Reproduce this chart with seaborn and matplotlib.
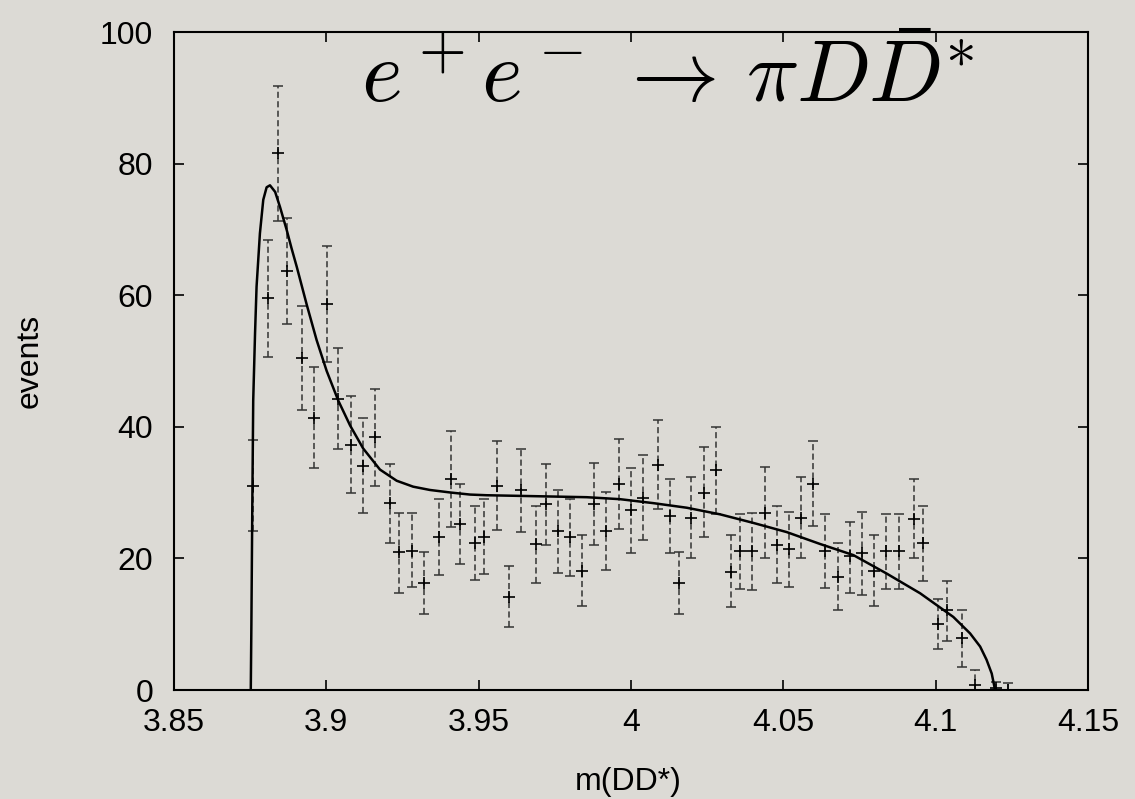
import matplotlib
matplotlib.use("Agg")
import matplotlib.pyplot as plt
import seaborn as sns
import numpy as np
import pandas as pd

# Invariant mass of the D D* system (GeV) and event counts per bin
mass = [3.8758, 3.8810, 3.8840, 3.8870, 3.8921, 3.8960, 3.9001, 3.9039, 3.9080, 3.9120,
        3.9160, 3.9210, 3.9240, 3.9280, 3.9321, 3.9370, 3.9410, 3.9439, 3.9489, 3.9518,
        3.9560, 3.9599, 3.9639, 3.9689, 3.9720, 3.9759, 3.9799, 3.9839, 3.9878, 3.9919,
        3.9960, 3.9999, 4.0039, 4.0090, 4.0129, 4.0159, 4.0198, 4.0239, 4.0279, 4.0329,
        4.0359, 4.0398, 4.0439, 4.0478, 4.0519, 4.0558, 4.0598, 4.0638, 4.0678, 4.0718,
        4.0758, 4.0798, 4.0838, 4.0879, 4.0928, 4.0957, 4.1007, 4.1036, 4.1087, 4.1129,
        4.1197, 4.1236]
counts = [31.0, 59.5, 81.6, 63.7, 50.5, 41.4, 58.7, 44.3, 37.3, 34.0,
          38.4, 28.4, 20.9, 21.2, 16.3, 23.3, 32.1, 25.2, 22.3, 23.3,
          31.0, 14.2, 30.4, 22.2, 28.3, 24.1, 23.2, 18.1, 28.3, 24.2,
          31.3, 27.3, 29.2, 34.2, 26.4, 16.3, 26.2, 30.0, 33.4, 18.0,
          21.1, 21.1, 26.9, 22.1, 21.4, 26.2, 31.3, 21.2, 17.1, 20.3,
          20.8, 18.1, 21.1, 21.1, 26.0, 22.3, 10.0, 12.1, 7.9, 0.7,
          0.3, 0.0]
bar_top = [38.0, 68.4, 91.8, 71.8, 58.4, 49.1, 67.5, 52.0, 44.7, 41.3,
           45.7, 34.4, 26.9, 26.9, 21.0, 29.0, 39.3, 31.3, 27.9, 29.0,
           37.9, 18.8, 36.7, 28.0, 34.4, 30.4, 29.0, 23.6, 34.5, 30.1,
           38.1, 33.7, 35.7, 41.0, 32.0, 20.9, 32.4, 37.0, 39.9, 23.5,
           26.7, 26.9, 33.9, 28.0, 27.1, 32.3, 37.8, 26.7, 22.3, 25.6,
           27.1, 23.6, 26.7, 26.7, 32.1, 28.0, 13.8, 16.5, 12.2, 3.0,
           1.2, 1.0]
bar_bottom = [24.1, 50.6, 71.3, 55.6, 42.6, 33.7, 49.8, 36.6, 30.0, 26.9,
              31.0, 22.3, 14.8, 15.7, 11.6, 17.5, 24.8, 19.1, 16.7, 17.6,
              24.3, 9.6, 24.0, 16.3, 22.0, 17.8, 17.3, 12.8, 22.0, 18.3,
              24.5, 20.8, 22.8, 27.5, 20.8, 11.6, 20.1, 23.3, 26.8, 12.6,
              15.3, 15.2, 20.0, 16.2, 15.7, 20.0, 24.9, 15.5, 12.1, 14.8,
              14.4, 12.7, 15.4, 15.4, 20.0, 16.6, 6.2, 7.5, 3.5, 0.0,
              0.0, 0.0]

# Fitted line shape
fit_mass = [3.8752, 3.8754, 3.8757, 3.8760, 3.8766, 3.8771, 3.8782, 3.8793, 3.8804, 3.8815,
            3.8832, 3.8848, 3.8870, 3.8886, 3.8903, 3.8936, 3.8968, 3.9001, 3.9039, 3.9078,
            3.9121, 3.9176, 3.9231, 3.9285, 3.9340, 3.9410, 3.9472, 3.9526, 3.9636, 3.9745,
            3.9855, 3.9964, 4.0073, 4.0183, 4.0292, 4.0401, 4.0511, 4.0620, 4.0730, 4.0839,
            4.0949, 4.1058, 4.1113, 4.1146, 4.1167, 4.1184, 4.1195]
fit_counts = [0.0, 10.0, 28.0, 44.0, 54.2, 61.3, 69.4, 74.5, 76.4, 76.7,
              75.7, 73.4, 69.9, 67.1, 64.3, 58.5, 53.2, 48.5, 44.0, 40.2,
              36.7, 33.5, 31.8, 30.9, 30.4, 30.0, 29.7, 29.6, 29.5, 29.4,
              29.3, 29.0, 28.4, 27.7, 26.7, 25.4, 24.0, 22.2, 20.5, 17.7,
              14.7, 11.1, 8.6, 6.6, 4.6, 2.5, 0.0]

x_ticks = [3.85, 3.9, 3.95, 4.0, 4.05, 4.1, 4.15]
x_ticklabels = ["3.85", "3.9", "3.95", "4", "4.05", "4.1", "4.15"]
y_ticks = [0, 20, 40, 60, 80, 100]

bg = "#dcdad5"
sns.set_theme(style="ticks")
plt.rcParams["font.family"] = ["Liberation Sans", "DejaVu Sans"]
plt.rcParams["mathtext.fontset"] = "cm"

fig = plt.figure(figsize=(11.35, 7.99), dpi=100, facecolor=bg)
ax = fig.add_axes([174 / 1135, 109 / 799, 914 / 1135, 658 / 799])
ax.set_facecolor(bg)

data = pd.DataFrame({"mass": mass, "counts": counts})
fit = pd.DataFrame({"mass": fit_mass, "counts": fit_counts})

# Dashed error bars with small caps
lo = np.array(counts) - np.array(bar_bottom)
hi = np.array(bar_top) - np.array(counts)
eb = ax.errorbar(mass, counts, yerr=[lo, hi], fmt="none", ecolor="#333333",
                 elinewidth=1.1, capsize=3.5, capthick=1.1, zorder=2)
for coll in eb[2]:
    coll.set_linestyle((0, (4, 2.2)))

sns.scatterplot(data=data, x="mass", y="counts", marker="+", s=70,
                color="black", linewidth=1.2, ax=ax, zorder=3)
sns.lineplot(data=fit, x="mass", y="counts", sort=False, estimator=None,
             color="black", linewidth=1.8, ax=ax, zorder=4)

ax.set_xlim(3.85, 4.15)
ax.set_ylim(0, 100)
ax.set_xticks(x_ticks)
ax.set_xticklabels(x_ticklabels)
ax.set_yticks(y_ticks)
ax.tick_params(direction="in", top=True, right=True, length=7, width=1.2,
               labelsize=23, colors="black")
ax.tick_params(axis="y", pad=15)
ax.tick_params(axis="x", pad=13)
for sp in ax.spines.values():
    sp.set_visible(True)
    sp.set_linewidth(1.5)
    sp.set_color("black")

ax.set_xlabel("m(DD*)", fontsize=23, color="black")
ax.set_ylabel("events", fontsize=23, color="black")
ax.xaxis.set_label_coords(0.497, -0.117)
ax.yaxis.set_label_coords(-0.142, 0.5)

ax.text(0.540, 0.928, r"$e^+e^-\,\rightarrow\,\pi D\bar{D}^{*}$", transform=ax.transAxes,
        ha="center", va="center", fontsize=63, color="black")

fig.savefig("out.png", dpi=100, facecolor=bg)
